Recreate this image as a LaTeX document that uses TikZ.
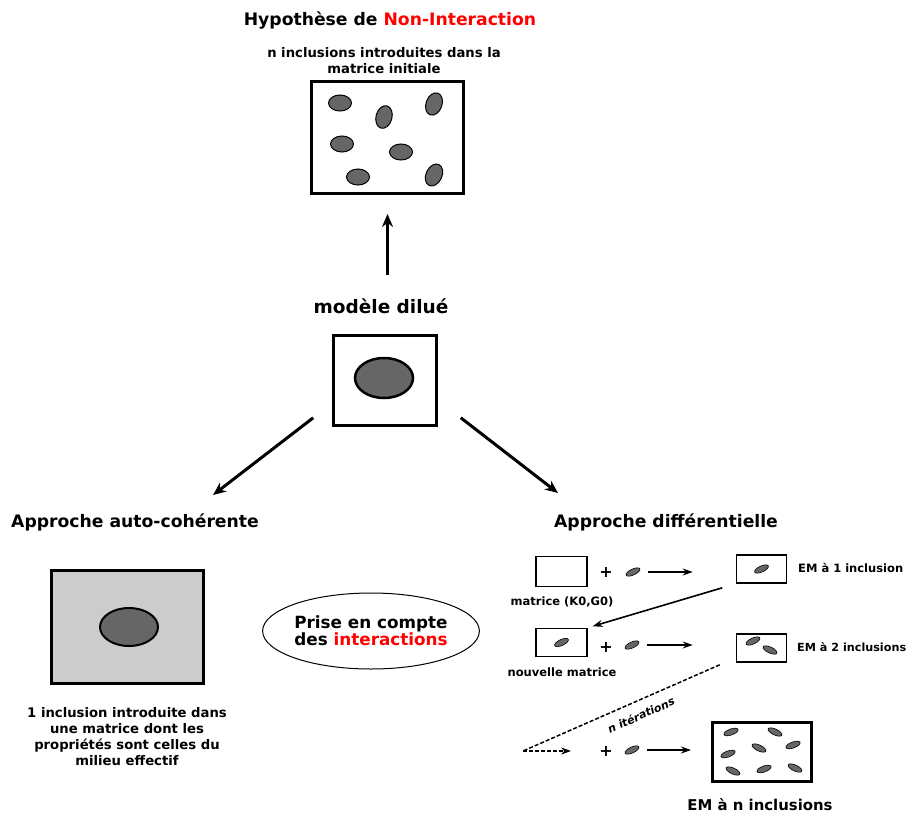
\documentclass[tikz,border=0pt]{standalone}
\usepackage{fontspec}
\setmainfont{DejaVu Sans}
\usetikzlibrary{arrows.meta, positioning, calc, shapes.geometric}
\definecolor{incgray}{HTML}{666666}
\definecolor{effgray}{HTML}{CCCCCC}
\definecolor{accred}{HTML}{FF0000}

\begin{document}
\begin{tikzpicture}[x=1pt, y=-1pt,
  bigarrow/.style={-{Stealth[length=13pt, width=11pt]}, line width=3pt},
  smallarrow/.style={-{Stealth[length=10pt, width=7pt]}, line width=1.6pt},
  headlbl/.style={font=\bfseries\fontsize{17.2}{20}\selectfont, inner sep=0pt},
  notelbl/.style={font=\bfseries\fontsize{13.2}{16}\selectfont, align=center, inner sep=0pt},
  smalllbl/.style={font=\bfseries\fontsize{11.5}{13}\selectfont, inner sep=0pt},
  bigbox/.style={draw, rectangle, line width=3pt, inner sep=0pt},
  smallbox/.style={draw, rectangle, line width=1.6pt, inner sep=0pt,
                   minimum width=50pt, minimum height=28pt},
  incl/.style={ellipse, draw, fill=incgray, line width=1pt, inner sep=0pt,
               minimum width=23pt, minimum height=16pt},
  tinyincl/.style={ellipse, draw, fill=incgray, line width=0.6pt, inner sep=0pt,
                   minimum width=15pt, minimum height=6pt},
  plus/.style={font=\bfseries\fontsize{16}{18}\selectfont, inner sep=0pt},
  iterline/.style={line width=1.5pt, dash pattern=on 4pt off 2pt},
]

\useasboundingbox (0,0) rectangle (907,814);

% Non-interaction (top)
\node[headlbl] (title) at (390,20) {Hypothèse de \textcolor{accred}{Non-Interaction}};
\node[notelbl] (topnote) at (384,61) {n inclusions introduites dans la\\matrice initiale};
\node[bigbox, minimum width=152pt, minimum height=112pt] (topbox) at (387.5,137.5) {};
\node[incl] (t1) at (340,103) {};
\node[incl, rotate=75] (t2) at (384,117) {};
\node[incl, rotate=70] (t3) at (434,104) {};
\node[incl] (t4) at (342,144) {};
\node[incl] (t5) at (401,152) {};
\node[incl] (t6) at (358,177) {};
\node[incl, rotate=65] (t7) at (434,175) {};

% Dilute model
\node[headlbl, font=\bfseries\fontsize{18.5}{20}\selectfont] (dilue) at (381,306) {modèle dilué};
\node[bigbox, line width=2.5pt, minimum width=103pt, minimum height=90pt] (mid) at (385,380.5) {};
\node[incl, line width=2.5pt, minimum width=58pt, minimum height=40pt] (midincl) at (384,378) {};
\draw[bigarrow, shorten <=23pt, shorten >=19pt] (topbox.south |- dilue.north) -- (topbox.south);

% Self-consistent approach
\node[headlbl] (autoc) at (135,522) {Approche auto-cohérente};
\node[bigbox, fill=effgray, minimum width=152pt, minimum height=113pt] (selfbox) at (127.5,627) {};
\node[incl, line width=2pt, minimum width=58pt, minimum height=38pt] (selfincl) at (129,627) {};
\node[notelbl] (selfnote) at (127,737) {1 inclusion introduite dans\\une matrice dont les\\propriétés sont celles du\\milieu effectif};
\coordinate (autoctip) at (213,495);
\draw[bigarrow] ($(mid.south west)+(-19,-9)$) -- (autoctip);

% Interactions
\node[ellipse, draw, line width=1pt, minimum width=192pt, minimum height=76pt, inner sep=0pt,
      font=\bfseries\fontsize{16.8}{16}\selectfont, align=center] (inter) at (371,631)
  {Prise en compte\\des \textcolor{accred}{interactions}};

% Differential approach
\node[headlbl] (diff) at (666,522) {Approche différentielle};
\coordinate (difftip) at (558,493);
\draw[bigarrow] ($(mid.south east)+(23,-9)$) -- (difftip);

% step 1
\node[smallbox, minimum width=51pt, minimum height=30pt] (mat0) at (561.5,571.5) {};
\node[smalllbl] (mat0lbl) at (562,602) {matrice (K0,G0)};
\node[plus] (plus1) at (606,572) {+};
\node[tinyincl, rotate=25] (inc1) at (633,572) {};
\node[smallbox] (em1) at (761.5,569) {};
\node[tinyincl, rotate=25] at (em1) {};
\node[smalllbl, anchor=west] (em1lbl) at (798,568) {EM à 1 inclusion};
\draw[smallarrow, shorten <=15pt, shorten >=43pt] (inc1.center) -- (inc1.center -| em1.west);

% step 2
\node[smallbox, minimum width=51pt] (nouv) at (561.5,642.5) {};
\node[tinyincl, rotate=25] at (nouv) {};
\node[smalllbl] (nouvlbl) at (562,672) {nouvelle matrice};
\draw[smallarrow, shorten <=14pt, shorten >=5pt] (em1.south west) -- (nouv.north east);
\node[plus] (plus2) at (606,647) {+};
\node[tinyincl, rotate=25] (inc2) at (632,645) {};
\node[smallbox] (em2) at (761.5,648) {};
\node[tinyincl, rotate=25] at (753,641) {};
\node[tinyincl, rotate=-25] at (770,650) {};
\node[smalllbl, font=\bfseries\fontsize{11.2}{13}\selectfont, anchor=west] (em2lbl) at (797,647) {EM à 2 inclusions};
\draw[smallarrow, shorten <=15pt, shorten >=43pt] (inc2.center) -- (inc2.center -| em2.west);

% step n
\coordinate (iter) at (523,751);
\draw[iterline] ($(em2.south west)+(-16,2)$) -- (iter);
\node[font=\bfseries\itshape\fontsize{11}{12}\selectfont, rotate=24, inner sep=0pt] (iterlbl) at (641,715) {n itérations};
\node[plus] (plus3) at (606,751) {+};
\node[tinyincl, rotate=25] (inc3) at (632,750) {};
\draw[smallarrow, iterline, shorten >=28pt] (iter) -- (plus3.west);
\node[bigbox, minimum width=99pt, minimum height=59pt] (emn) at (762,752) {};
\draw[smallarrow, shorten <=15pt, shorten >=20pt] (inc3.center) -- (inc3.center -| emn.west);
\foreach \px/\py/\ang in {731/732/20, 775/732/-25, 759/748/-25, 793/745/20,
                         728/754/20, 733/771/-25, 764/769/20, 795/768/-25}
  \node[tinyincl, rotate=\ang] at (\px,\py) {};
\node[font=\bfseries\fontsize{14.9}{16}\selectfont, inner sep=0pt] (emnlbl) at (760,805) {EM à n inclusions};

\end{tikzpicture}
\end{document}
